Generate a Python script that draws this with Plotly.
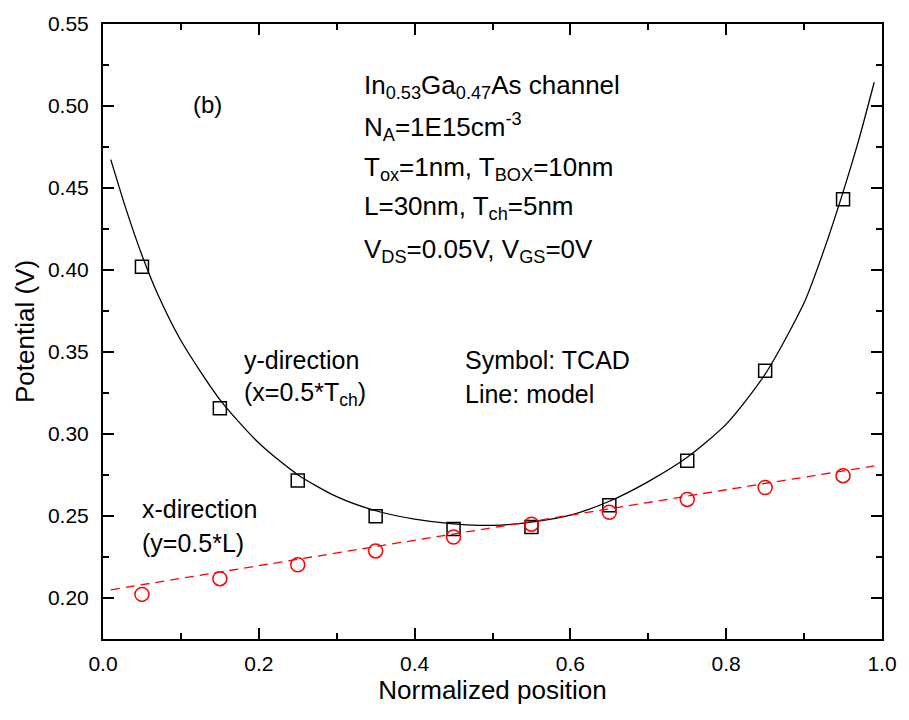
import plotly.graph_objects as go

# TCAD symbols
pos_tcad = [0.05, 0.15, 0.25, 0.35, 0.45, 0.55, 0.65, 0.75, 0.85, 0.95]
y_dir_tcad = [0.402, 0.3157, 0.2716, 0.2499, 0.2420, 0.2433, 0.2565, 0.2837, 0.3386, 0.4431]
x_dir_tcad = [0.2022, 0.2118, 0.2203, 0.2287, 0.2372, 0.2450, 0.2523, 0.2601, 0.2674, 0.2746]

# Model lines
pos_model_y = [0.01, 0.03, 0.05, 0.07, 0.10, 0.15, 0.20, 0.25, 0.30, 0.35, 0.40, 0.45,
               0.50, 0.55, 0.60, 0.65, 0.70, 0.75, 0.80, 0.85, 0.90, 0.925, 0.95, 0.97, 0.99]
y_dir_model = [0.4673, 0.4365, 0.409, 0.3855, 0.357, 0.321, 0.2945, 0.2752, 0.2618, 0.2532,
               0.2481, 0.2452, 0.2443, 0.2463, 0.2505, 0.2590, 0.2710, 0.2858, 0.3060, 0.3365,
               0.3800, 0.4115, 0.4475, 0.4790, 0.5145]
pos_model_x = [0.01, 0.2, 0.4, 0.6, 0.8, 0.99]
x_dir_model = [0.2050, 0.2197, 0.2352, 0.2505, 0.2660, 0.2805]

FONT = "Arial, Liberation Sans, sans-serif"

fig = go.Figure()
fig.add_trace(go.Scatter(x=pos_model_y, y=y_dir_model, mode="lines", line_shape="spline",
                         line=dict(color="black", width=1.3, smoothing=0.7), showlegend=False))
fig.add_trace(go.Scatter(x=pos_model_x, y=x_dir_model, mode="lines", line_shape="spline",
                         line=dict(color="red", width=1.3, dash="9px,6px"), showlegend=False))
fig.add_trace(go.Scatter(x=pos_tcad, y=y_dir_tcad, mode="markers",
                         marker=dict(symbol="square-open", size=13, color="black",
                                     line=dict(width=1.5)), showlegend=False))
fig.add_trace(go.Scatter(x=pos_tcad, y=x_dir_tcad, mode="markers",
                         marker=dict(symbol="circle-open", size=14, color="red",
                                     line=dict(width=1.5)), showlegend=False))

axis_common = dict(showline=True, linecolor="black", linewidth=2, mirror="allticks",
                   ticks="inside", ticklen=11, tickwidth=2, tickcolor="black",
                   showgrid=False, zeroline=False,
                   tickfont=dict(family=FONT, size=21, color="black"))

fig.update_xaxes(range=[0, 1], dtick=0.2, tick0=0, tickformat=".1f", ticklabelstandoff=5,
                 minor=dict(dtick=0.1, tick0=0, ticks="inside", ticklen=6, tickwidth=2, tickcolor="black"),
                 title=dict(text="Normalized position", font=dict(family=FONT, size=26, color="black"), standoff=6),
                 **axis_common)
fig.update_yaxes(range=[0.175, 0.55], dtick=0.05, tick0=0.2, tickformat=".2f", ticklabelstandoff=8,
                 minor=dict(dtick=0.025, tick0=0.2, ticks="inside", ticklen=6, tickwidth=2, tickcolor="black"),
                 title=dict(text="Potential (V)", font=dict(family=FONT, size=26, color="black"), standoff=6),
                 **axis_common)

def note(text, x, y, size=25, anchor="left"):
    fig.add_annotation(text=text, x=x, y=y, xref="paper", yref="paper",
                       xanchor=anchor, yanchor="middle", showarrow=False,
                       font=dict(family=FONT, size=size, color="black"))

W, H = 909, 720
L, R, T, B = 103, 20, 17, 81
pw, ph = W - L - R, H - T - B

def px(xp):
    return (xp - L) / pw

def py(yp):
    return 1 - (yp - T) / ph

note("(b)", px(208), py(98), size=24, anchor="center")
lines = [
    "In<sub>0.53</sub>Ga<sub>0.47</sub>As channel",
    "N<sub>A</sub>=1E15cm<sup>-3</sup>",
    "T<sub>ox</sub>=1nm, T<sub>BOX</sub>=10nm",
    "L=30nm, T<sub>ch</sub>=5nm",
    "V<sub>DS</sub>=0.05V, V<sub>GS</sub>=0V",
]
ys = [80, 121, 163, 203, 246]
for t, yy in zip(lines, ys):
    note(t, px(364), py(yy), size=26)

note("y-direction", px(243), py(357), size=25)
note("(x=0.5*T<sub>ch</sub>)", px(243), py(391), size=25)
note("x-direction", px(140), py(508), size=25)
note("(y=0.5*L)", px(140), py(542), size=25)
note("Symbol: TCAD", px(466), py(357), size=25)
note("Line: model", px(466), py(391), size=25)

fig.update_layout(width=W, height=H, margin=dict(l=L, r=R, t=T, b=B),
                  paper_bgcolor="white", plot_bgcolor="white",
                  font=dict(family=FONT, color="black"))

fig.write_html("out.html")
